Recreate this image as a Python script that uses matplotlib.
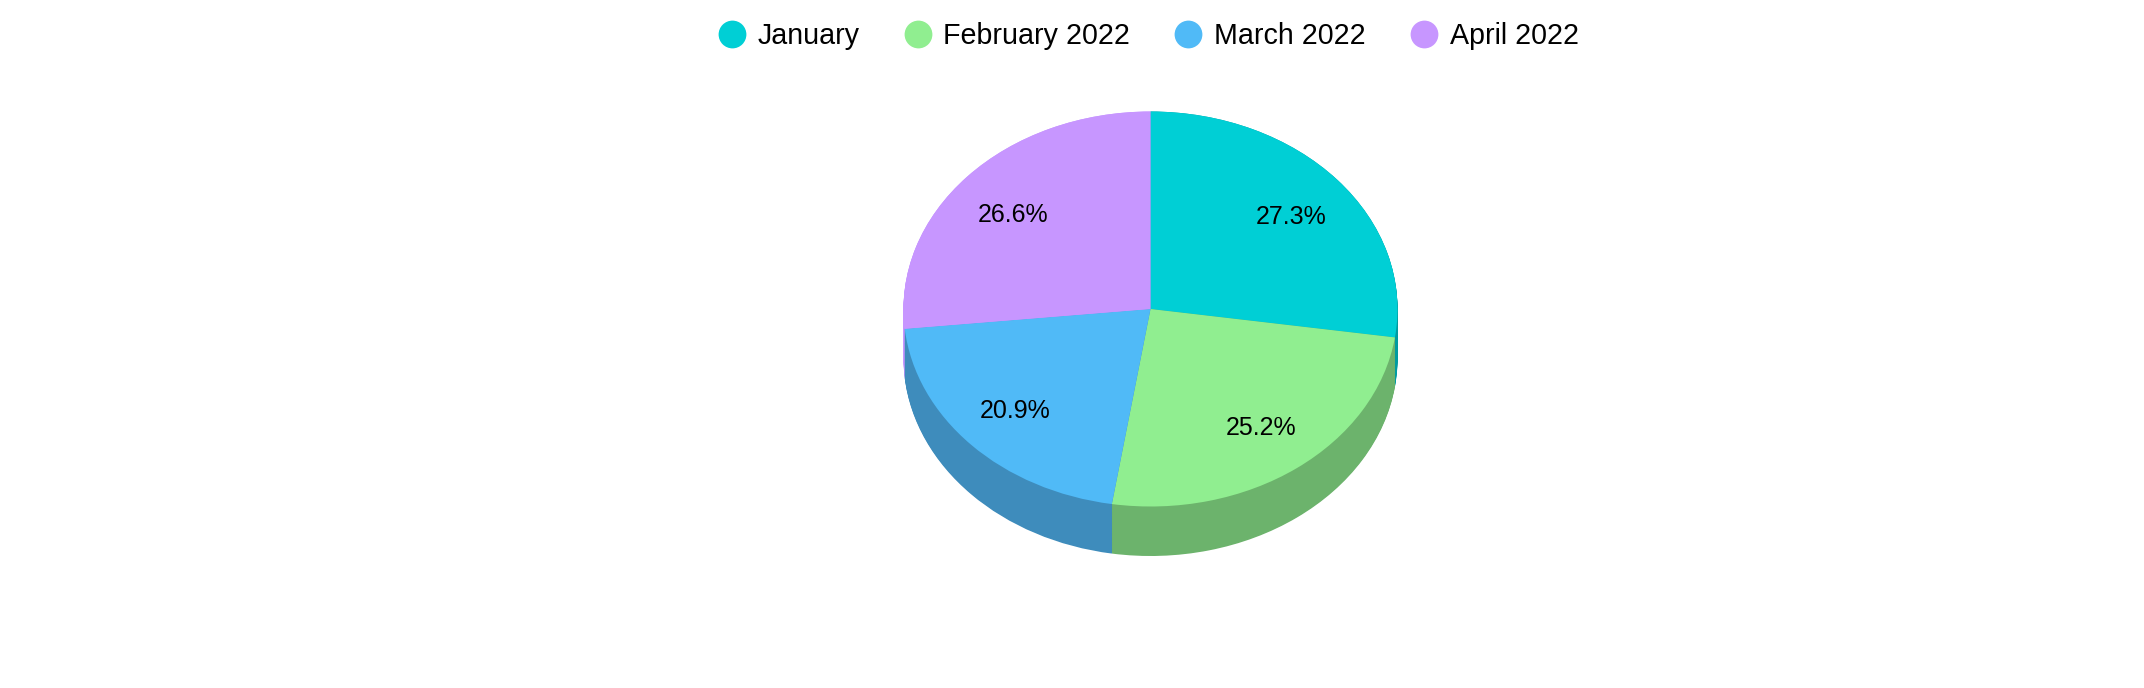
import matplotlib
matplotlib.use('Agg')
import matplotlib.pyplot as plt
from matplotlib.lines import Line2D
import numpy as np

plt.rcParams['font.family'] = ['Liberation Sans', 'DejaVu Sans']

months = ['January', 'February 2022', 'March 2022', 'April 2022']
shares = [27.3, 25.2, 20.9, 26.6]
top_colors = ['#00CFD5', '#90EE90', '#50BAF7', '#C796FF']
# April's wall only shows as a sliver on the left, reference has none so keep it the top colour
side_colors = ['#009BA0', '#6CB36C', '#3E8CBC', '#C796FF']

W, H = 2144, 688
cx, cy = 1150.5, 309    # pie centre in pixels from top left
rx, ry = 247, 197.5     # top face radii
depth = 49.5 / ry

fig = plt.figure(figsize=(W / 100, H / 100), dpi=100, facecolor='white')
ax = fig.add_axes([0, 0, 1, 1])

# side wall is just the same pie stacked downwards in the darker colours
for d in np.linspace(depth, 0, 60):
    ax.pie(shares, colors=side_colors, startangle=90, counterclock=False,
           center=(0, -d), normalize=True, wedgeprops=dict(linewidth=0))

wedges, _, pcts = ax.pie(shares, colors=top_colors, startangle=90, counterclock=False,
                         autopct='%.1f%%', pctdistance=0.73, normalize=True,
                         wedgeprops=dict(linewidth=0),
                         textprops=dict(fontsize=18, color='black'))

# labels sit a bit wider and lower than plain autopct
for t in pcts:
    x, y = t.get_position()
    t.set_position((x * 1.03, y - 2.7 / ry))

# squash into an ellipse
ax.set_aspect('auto')
ax.set_xlim(-cx / rx, (W - cx) / rx)
ax.set_ylim(-(H - cy) / ry, cy / ry)
ax.axis('off')

handles = [Line2D([], [], linestyle='none', marker='o', markersize=20,
                  markerfacecolor=c, markeredgewidth=0) for c in top_colors]
fig.legend(handles, months, loc='center', bbox_to_anchor=(1148 / W, 1 - 36.5 / H),
           ncol=4, frameon=False, fontsize=20.6, numpoints=1, handlelength=1,
           handletextpad=0.4, columnspacing=1.535)

fig.savefig('out.png', dpi=100)
